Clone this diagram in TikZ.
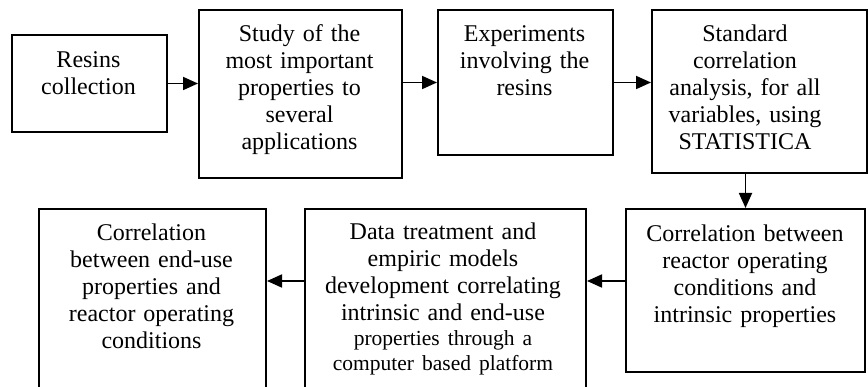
\documentclass[tikz,border=0pt]{standalone}
\usepackage{fontspec}
\setmainfont{Liberation Serif}
\usetikzlibrary{arrows.meta}
\begin{document}
\begin{tikzpicture}[x=1pt,y=-1pt,
  box/.style={draw, line width=2pt, rectangle, anchor=north west, inner sep=0pt},
  txt/.style={anchor=base, text width=280pt, align=center, inner sep=0pt, font=\fontsize{24}{27}\selectfont},
  arr/.style={line width=1.8pt, -{Triangle[length=15pt,width=13pt]}}]
\useasboundingbox (0,0) rectangle (868,387);
\clip (0,0) rectangle (868,387);
% boxes
\node[box, minimum width=155pt, minimum height=97pt] (b1) at (11,34) {};
\node[box, minimum width=203pt, minimum height=168pt] (b2) at (198,9) {};
\node[box, minimum width=175pt, minimum height=145pt] (b3) at (437,9) {};
\node[box, minimum width=215pt, minimum height=163pt] (b4) at (651,9) {};
\node[box, minimum width=239pt, minimum height=163pt] (b5) at (625,208) {};
\node[box, minimum width=281pt, minimum height=195pt] (b6) at (304,208) {};
\node[box, minimum width=227pt, minimum height=195pt] (b7) at (38,208) {};
% texts
\node[txt] (t1) at (88.5,68) {Resins\\collection};
\node[txt] (t2) at (299.5,42) {Study of the\\most important\\properties to\\several\\applications};
\node[txt] (t3) at (524.5,42) {Experiments\\involving the\\resins};
\node[txt] (t4) at (745,42) {Standard\\correlation\\analysis, for all\\variables, using\\STATISTICA};
\node[txt] (t5) at (745,242) {Correlation between\\reactor operating\\conditions and\\intrinsic properties};
\node[txt] (t6) at (443,240) {Data treatment and\\empiric models\\development correlating\\intrinsic and end-use\par
  {\fontsize{21.5}{25}\selectfont properties through a\\computer based platform\par}};
\node[txt] (t7) at (151.5,241) {Correlation\\between end-use\\properties and\\reactor operating\\conditions};
% connectors
\draw[arr] (b1.east) -- (b1.east -| b2.west);
\draw[arr] (b2.east |- b3.east) -- (b3.west);
\draw[arr] (b3.east) -- (b3.east -| b4.west);
\draw[arr] (b5.north |- b4.south) -- (b5.north);
\coordinate (c5) at ([yshift=9.5pt]b5.west);
\draw[arr] (c5) -- (c5 -| b6.east);
\draw[arr] (c5 -| b6.west) -- (c5 -| b7.east);
\end{tikzpicture}
\end{document}
